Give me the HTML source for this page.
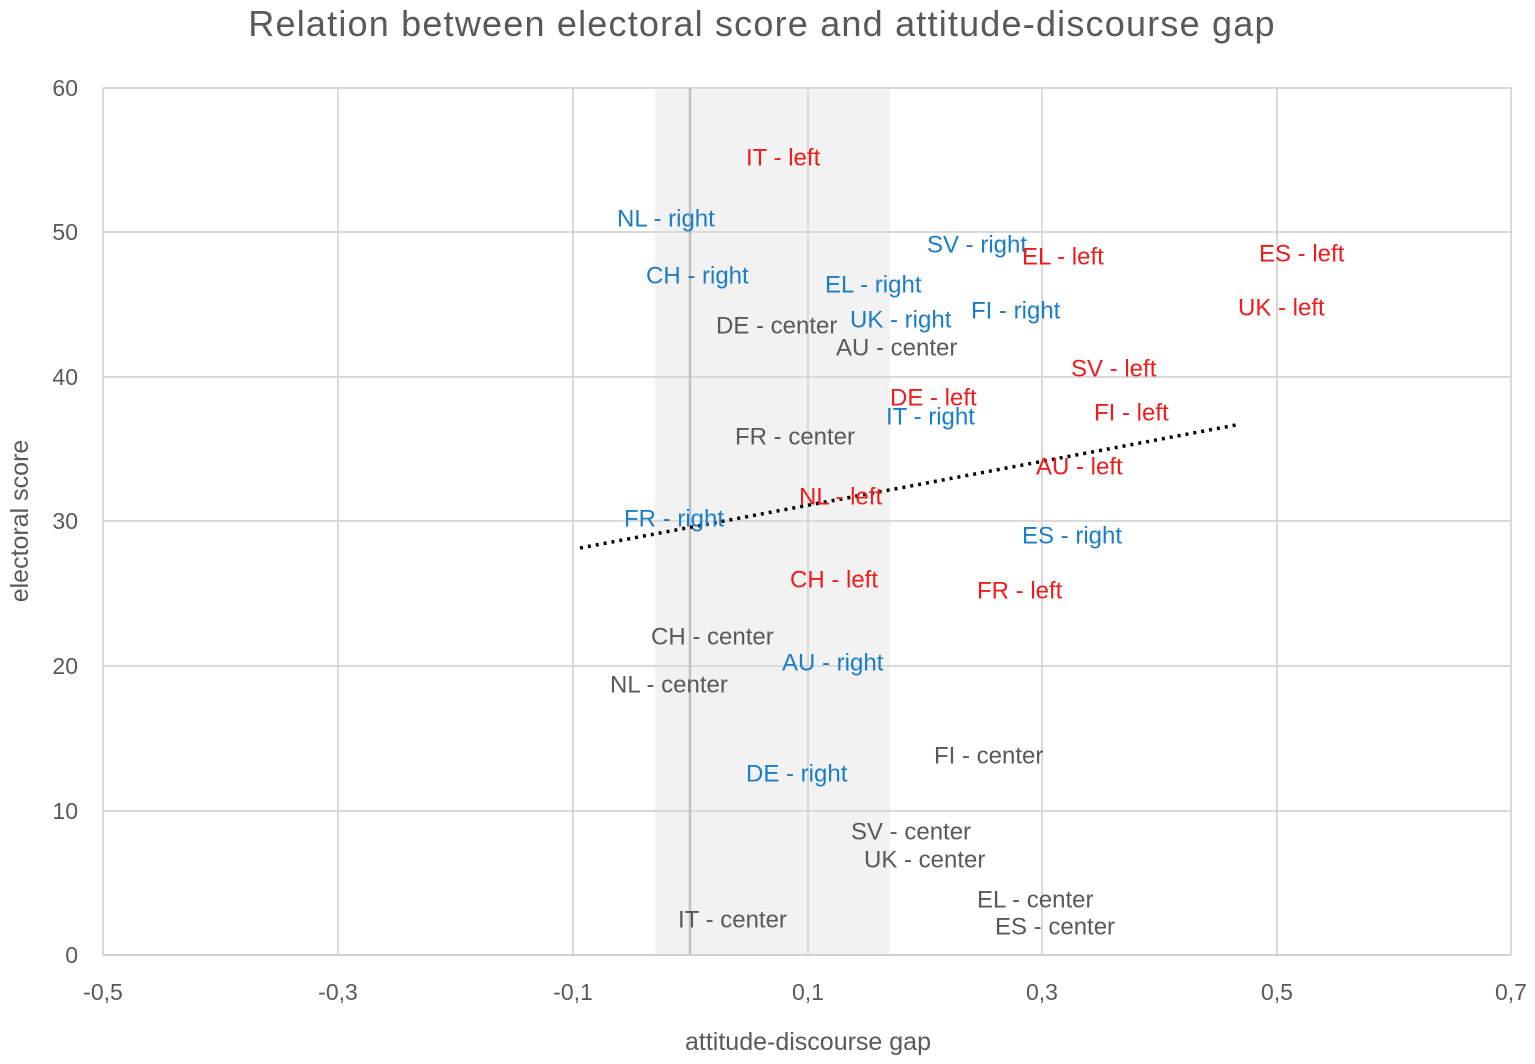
<!DOCTYPE html>
<html><head><meta charset="utf-8"><style>
html,body{margin:0;padding:0;background:#fff;}
svg{display:block;font-family:"Liberation Sans",sans-serif;}
.r{fill:#ee1c1c}.b{fill:#1a7dc8}.g{fill:#595959}
.l text{font-size:24px;dominant-baseline:central}
.t{font-size:23px;fill:#595959}
</style></head><body>
<svg width="1535" height="1064" viewBox="0 0 1535 1064">
<rect x="655" y="88" width="235" height="867" fill="#f2f2f2"/>
<g stroke="#d9d9d9" stroke-width="2">
<line x1="103" y1="88" x2="1511" y2="88"/>
<line x1="103" y1="232" x2="1511" y2="232"/>
<line x1="103" y1="377" x2="1511" y2="377"/>
<line x1="103" y1="521" x2="1511" y2="521"/>
<line x1="103" y1="666" x2="1511" y2="666"/>
<line x1="103" y1="811" x2="1511" y2="811"/>
<line x1="103" y1="88" x2="103" y2="955"/>
<line x1="338" y1="88" x2="338" y2="955"/>
<line x1="573" y1="88" x2="573" y2="955"/>
<line x1="808" y1="88" x2="808" y2="955"/>
<line x1="1042" y1="88" x2="1042" y2="955"/>
<line x1="1277" y1="88" x2="1277" y2="955"/>
<line x1="1511" y1="88" x2="1511" y2="955"/>
</g>
<line x1="690" y1="88" x2="690" y2="955" stroke="#bfbfbf" stroke-width="2.5"/>
<line x1="103" y1="955" x2="1511" y2="955" stroke="#d0d0d0" stroke-width="2"/>
<line x1="580" y1="548" x2="1236" y2="425" stroke="#000" stroke-width="3.5" stroke-dasharray="3 5"/>
<text x="762" y="36" text-anchor="middle" font-size="36" letter-spacing="1.2" fill="#595959">Relation between electoral score and attitude-discourse gap</text>
<g class="t" text-anchor="end">
<text x="78" y="96">60</text><text x="78" y="240">50</text><text x="78" y="385">40</text>
<text x="78" y="529">30</text><text x="78" y="674">20</text><text x="78" y="819">10</text><text x="78" y="963">0</text>
</g>
<g class="t" text-anchor="middle">
<text x="103" y="1000">-0,5</text><text x="338" y="1000">-0,3</text><text x="573" y="1000">-0,1</text>
<text x="808" y="1000">0,1</text><text x="1042" y="1000">0,3</text><text x="1277" y="1000">0,5</text><text x="1511" y="1000">0,7</text>
</g>
<text x="808" y="1050" text-anchor="middle" font-size="25" fill="#595959">attitude-discourse gap</text>
<text transform="translate(28,521) rotate(-90)" text-anchor="middle" font-size="25" fill="#595959">electoral score</text>
<g class="l">
<text class="r" x="746" y="158">IT - left</text>
<text class="b" x="617" y="219">NL - right</text>
<text class="b" x="927" y="245">SV - right</text>
<text class="r" x="1022" y="257">EL - left</text>
<text class="r" x="1259" y="254">ES - left</text>
<text class="b" x="646" y="276">CH - right</text>
<text class="b" x="825" y="285">EL - right</text>
<text class="b" x="971" y="311">FI - right</text>
<text class="r" x="1238" y="308">UK - left</text>
<text class="g" x="716" y="326">DE - center</text>
<text class="b" x="850" y="320">UK - right</text>
<text class="g" x="836" y="348">AU - center</text>
<text class="r" x="1071" y="369">SV - left</text>
<text class="r" x="890" y="398">DE - left</text>
<text class="b" x="886" y="417">IT - right</text>
<text class="r" x="1094" y="413">FI - left</text>
<text class="g" x="735" y="437">FR - center</text>
<text class="r" x="1036" y="467">AU - left</text>
<text class="r" x="799" y="497">NL - left</text>
<text class="b" x="624" y="519">FR - right</text>
<text class="b" x="1022" y="536">ES - right</text>
<text class="r" x="790" y="580">CH - left</text>
<text class="r" x="977" y="591">FR - left</text>
<text class="g" x="651" y="637">CH - center</text>
<text class="b" x="782" y="663">AU - right</text>
<text class="g" x="610" y="685">NL - center</text>
<text class="g" x="934" y="756">FI - center</text>
<text class="b" x="746" y="774">DE - right</text>
<text class="g" x="851" y="832">SV - center</text>
<text class="g" x="864" y="860">UK - center</text>
<text class="g" x="977" y="900">EL - center</text>
<text class="g" x="995" y="927">ES - center</text>
<text class="g" x="678" y="920">IT - center</text>
</g>
</svg>
</body></html>
